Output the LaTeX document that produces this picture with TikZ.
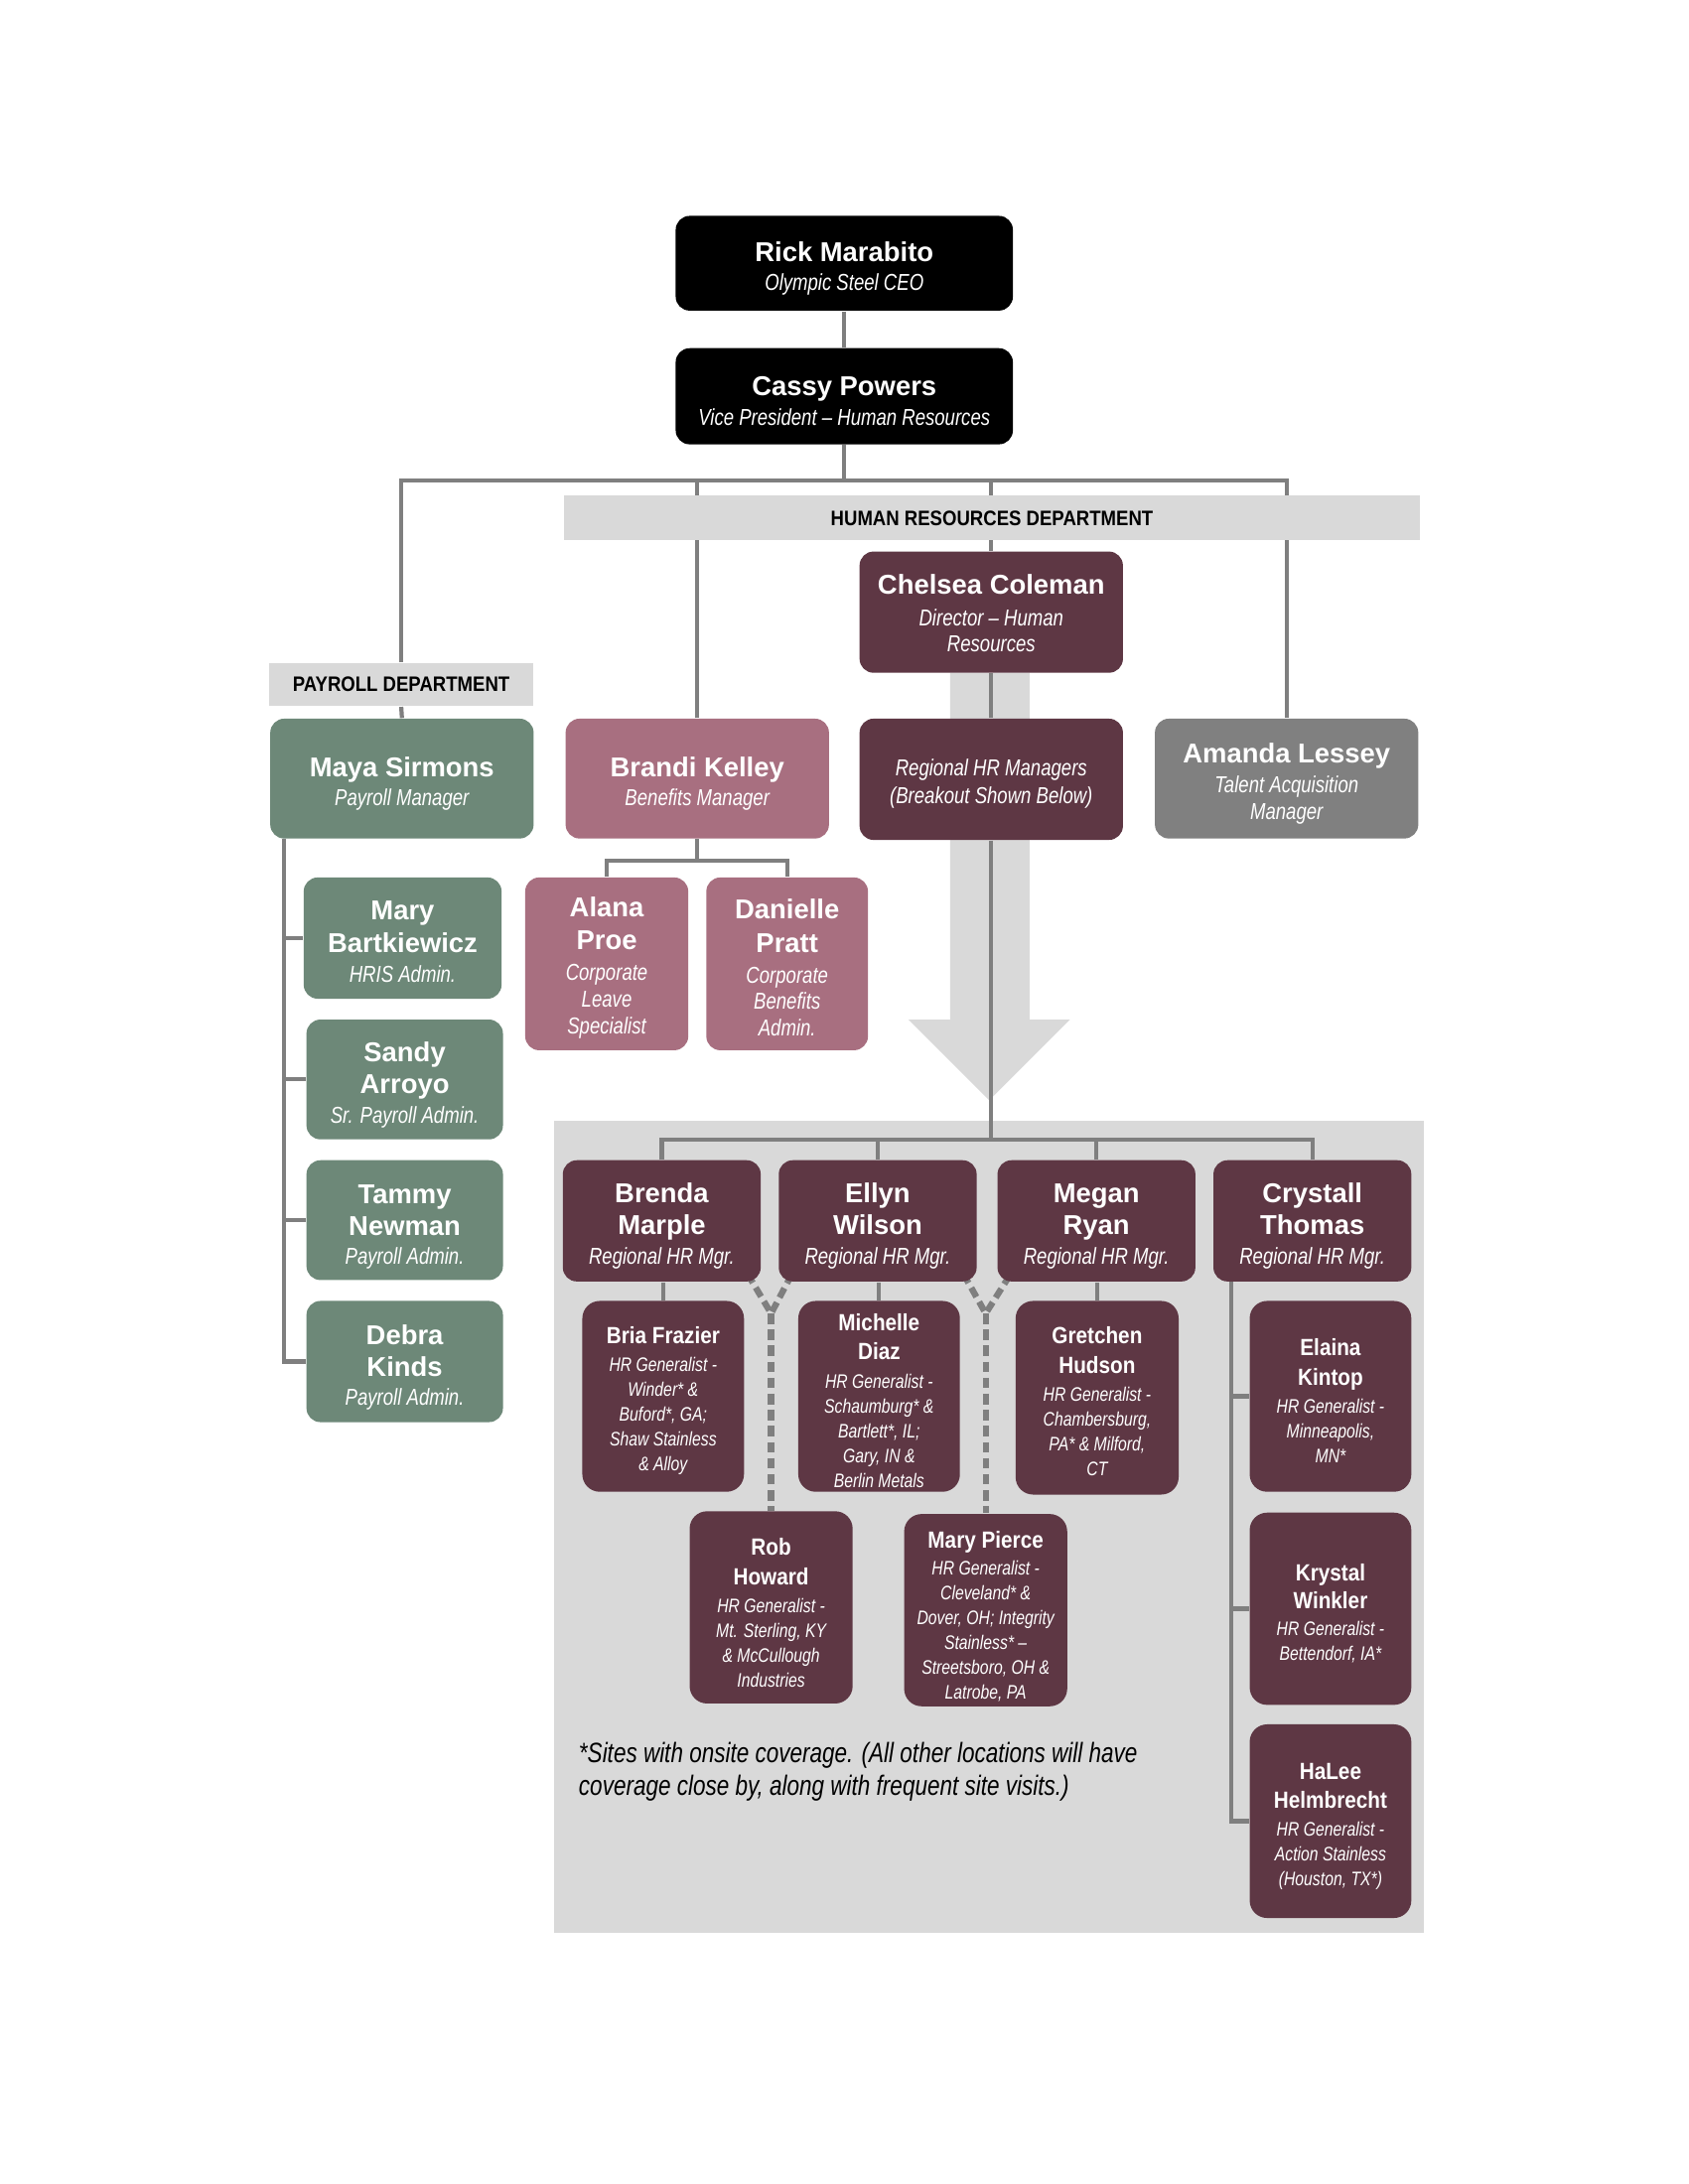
\documentclass[tikz,border=0pt]{standalone}
\usepackage{fontspec}
\setmainfont{Liberation Sans}
\newfontfamily\condfont[FakeStretch=0.8]{Liberation Sans}
\newfontfamily\gnfont[FakeStretch=0.88]{Liberation Sans}
\usetikzlibrary{calc}
\definecolor{cMaroon}{HTML}{5E3744}
\definecolor{cGreen}{HTML}{6D8878}
\definecolor{cPink}{HTML}{A86F80}
\definecolor{cGrayBox}{HTML}{808080}
\definecolor{cLight}{HTML}{D9D9D9}
\definecolor{cLine}{HTML}{7F7F7F}
\pgfdeclarelayer{back}
\pgfdeclarelayer{lines}
\pgfsetlayers{back,lines,main}
\newcommand\nm[1]{{\normalfont\bfseries\fontsize{7.8}{9}\selectfont #1}}
\newcommand\gn[1]{{\gnfont\bfseries\upshape\fontsize{6.7}{8}\selectfont #1}}
\newcommand\tp[1]{\rule{0pt}{#1}}
\tikzset{
  box/.style n args={3}{rounded corners=4pt, inner sep=0pt, align=center, text=white,
    fill=#1, minimum width=#2*0.39906pt, minimum height=#3*0.39906pt,
    font=\condfont\itshape\fontsize{6.6}{7.6}\selectfont},
  gbox/.style 2 args={rounded corners=5pt, inner sep=0pt, align=center, text=white,
    fill=cMaroon, minimum width=#1*0.39906pt, minimum height=#2*0.39906pt,
    font=\condfont\itshape\fontsize{5.6}{7.1}\selectfont},
  dept/.style 2 args={inner sep=0pt, fill=cLight, text=black,
    minimum width=#1*0.39906pt, minimum height=#2*0.39906pt,
    font=\gnfont\bfseries\fontsize{6}{7}\selectfont},
  conn/.style={draw=cLine, line width=1.2pt},
  dconn/.style={draw=cLine, line width=1.8pt, dash pattern=on 3pt off 1.6pt}
}
\begin{document}
\begin{tikzpicture}[x=0.014026cm, y=-0.014026cm]
\useasboundingbox (0,0) rectangle (1212,1568);

% ---------- top ----------
\node[box={black}{242}{68}] (rick) at (606,189) {\nm{\tp{8.6pt}Rick Marabito}\\[0.6pt]Olympic Steel CEO};
\node[box={black}{242}{69}] (cassy) at (606,284.5) {\nm{\tp{8.2pt}Cassy Powers}\\[1.1pt]Vice President – Human Resources};

\node[dept={614}{32}] (hrlabel) at (712,372) {HUMAN RESOURCES DEPARTMENT};
\node[dept={190}{31}] (plabel) at (288,491.5) {PAYROLL DEPARTMENT};

\node[box={cMaroon}{189}{87}] (chelsea) at (711.5,439.5) {\nm{\tp{6.4pt}Chelsea Coleman}\\[1.3pt]Director – Human\\Resources};
\node[box={cGreen}{189}{86}] (maya) at (288.5,559) {\nm{\tp{8.6pt}Maya Sirmons}\\[0.8pt]Payroll Manager};
\node[box={cPink}{189}{86}] (brandi) at (500.5,559) {\nm{\tp{8.6pt}Brandi Kelley}\\[0.8pt]Benefits Manager};
\node[box={cMaroon}{189}{87}] (regional) at (711.5,559.5) {\tp{7.1pt}Regional HR Managers\\[0.4pt](Breakout Shown Below)};
\node[box={cGrayBox}{189}{86}] (amanda) at (923.5,559) {\nm{\tp{8.4pt}Amanda Lessey}\\[1.1pt]Talent Acquisition\\Manager};

% ---------- payroll ----------
\node[box={cGreen}{142}{87}] (mary) at (289,673.5) {\nm{\tp{7.6pt}Mary}\\[1.6pt]\nm{Bartkiewicz}\\[1.0pt]HRIS Admin.};
\node[box={cGreen}{141}{86}] (sandy) at (290.5,775) {\nm{\tp{8.6pt}Sandy}\\[1.6pt]\nm{Arroyo}\\[0.8pt]Sr. Payroll Admin.};
\node[box={cGreen}{141}{86}] (tammy) at (290.5,876) {\nm{\tp{9.4pt}Tammy}\\[1.6pt]\nm{Newman}\\[0.6pt]Payroll Admin.};
\node[box={cGreen}{141}{87}] (debra) at (290.5,977.5) {\nm{\tp{9.0pt}Debra}\\[1.6pt]\nm{Kinds}\\[0.7pt]Payroll Admin.};

% ---------- benefits ----------
\node[box={cPink}{117}{124}] (alana) at (435.5,692) {\nm{\tp{7.8pt}Alana}\\[2pt]\nm{Proe}\\[1.2pt]Corporate\\Leave\\Specialist};
\node[box={cPink}{116}{124}] (danielle) at (565,692) {\nm{\tp{7.8pt}Danielle}\\[2pt]\nm{Pratt}\\[1.2pt]Corporate\\Benefits\\Admin.};

% ---------- regional breakout ----------
\node[box={cMaroon}{142}{87}] (brenda) at (475,876.5) {\nm{\tp{8.6pt}Brenda}\\[1.6pt]\nm{Marple}\\[0.8pt]Regional HR Mgr.};
\node[box={cMaroon}{142}{87}] (ellyn) at (630,876.5) {\nm{\tp{8.6pt}Ellyn}\\[1.6pt]\nm{Wilson}\\[0.8pt]Regional HR Mgr.};
\node[box={cMaroon}{142}{87}] (megan) at (787,876.5) {\nm{\tp{8.6pt}Megan}\\[1.6pt]\nm{Ryan}\\[0.8pt]Regional HR Mgr.};
\node[box={cMaroon}{142}{87}] (crystall) at (942,876.5) {\nm{\tp{8.6pt}Crystall}\\[1.6pt]\nm{Thomas}\\[0.8pt]Regional HR Mgr.};

\node[gbox={116}{137}] (bria) at (476,1002.5) {\gn{\tp{7.2pt}Bria Frazier}\\[1.0pt]HR Generalist -\\Winder* \&\\Buford*, GA;\\Shaw Stainless\\\& Alloy};
\node[gbox={116}{137}] (michelle) at (631,1002.5) {\gn{\tp{7.2pt}Michelle}\\[1.4pt]\gn{Diaz}\\[1.0pt]HR Generalist -\\Schaumburg* \&\\Bartlett*, IL;\\Gary, IN \&\\Berlin Metals};
\node[gbox={117}{139}] (gretchen) at (787.5,1003.5) {\gn{\tp{6.8pt}Gretchen}\\[1.4pt]\gn{Hudson}\\[1.0pt]HR Generalist -\\Chambersburg,\\PA* \& Milford,\\CT};
\node[gbox={116}{137}] (elaina) at (955,1002.5) {\gn{\tp{7.4pt}Elaina}\\[1.4pt]\gn{Kintop}\\[1.0pt]HR Generalist -\\Minneapolis,\\MN*};
\node[gbox={116}{138}] (krystal) at (955,1155) {\gn{\tp{7.6pt}Krystal}\\[0.8pt]\gn{Winkler}\\[0.8pt]HR Generalist -\\Bettendorf, IA*};
\node[gbox={116}{139}] (halee) at (955,1307.5) {\gn{\tp{7.6pt}HaLee}\\[1.4pt]\gn{Helmbrecht}\\[0.8pt]HR Generalist -\\Action Stainless\\(Houston, TX*)};
\node[gbox={117}{138}] (rob) at (553.5,1154) {\gn{\tp{7.8pt}Rob}\\[1.6pt]\gn{Howard}\\[0.8pt]HR Generalist -\\Mt. Sterling, KY\\\& McCullough\\Industries};
\node[gbox={117}{138}] (mpierce) at (707.5,1156) {\gn{\tp{8.4pt}Mary Pierce}\\[0.6pt]HR Generalist -\\Cleveland* \&\\Dover, OH; Integrity\\Stainless* –\\Streetsboro, OH \&\\Latrobe, PA};

\node[anchor=west, align=left, inner sep=0pt, text=black,
  font=\condfont\itshape\fontsize{8}{9.6}\selectfont] (note) at (415,1272)
  {*Sites with onsite coverage. (All other locations will have\\coverage close by, along with frequent site visits.)};

% ---------- junction points ----------
\coordinate (hb) at (606,345);
\coordinate (pv) at (204,602);
\coordinate (bk) at (500.5,618);
\coordinate (bb) at (711.5,818);
\coordinate (cv) at (884,920);
\coordinate (y1) at (553.5,943);
\coordinate (y2) at (707.5,943);

% ---------- background shapes ----------
\begin{pgfonlayer}{back}
  \fill[white] (0,0) rectangle (1212,1568);
  \fill[cLight] (398,805) rectangle (1022,1388);
  \fill[cLight] (682,483) -- (682,732) -- (652,732) -- (710,790) -- (768,732) -- (739,732) -- (739,483) -- cycle;
\end{pgfonlayer}

% ---------- connectors ----------
\begin{pgfonlayer}{lines}
  \draw[conn] (rick.south) -- (cassy.north);
  \draw[conn] (cassy.south) -- (hb);
  \draw[conn] (plabel.north) |- (hb) -| (amanda.north);
  \draw[conn] (brandi.north) -- (brandi.north |- hb);
  \draw[conn] (chelsea.north) -- (chelsea.north |- hb);
  \draw[conn] (plabel.south) -- (maya.north);
  \draw[conn] (chelsea.south) -- (regional.north);
  \draw[conn] (regional.south) -- (bb);
  \draw[conn] (brenda.north) |- (bb) -| (crystall.north);
  \draw[conn] (ellyn.north) -- (ellyn.north |- bb);
  \draw[conn] (megan.north) -- (megan.north |- bb);
  \draw[conn] (bria.north) -- (bria.north |- brenda.south);
  \draw[conn] (michelle.north) -- (michelle.north |- ellyn.south);
  \draw[conn] (gretchen.north) -- (gretchen.north |- megan.south);
  \draw[conn] (cv) |- (halee.west);
  \draw[conn] (cv |- elaina.west) -- (elaina.west);
  \draw[conn] (cv |- krystal.west) -- (krystal.west);
  \draw[conn] (pv) |- (debra.west);
  \draw[conn] (pv |- mary.west) -- (mary.west);
  \draw[conn] (pv |- sandy.west) -- (sandy.west);
  \draw[conn] (pv |- tammy.west) -- (tammy.west);
  \draw[conn] (brandi.south) -- (bk);
  \draw[conn] (alana.north) |- (bk) -| (danielle.north);
  \draw[dconn] ($(brenda.south east)+(-10,-6)$) -- (y1) -- ($(ellyn.south west)+(10,-6)$);
  \draw[dconn] (y1) -- (rob.north);
  \draw[dconn] ($(ellyn.south east)+(-10,-6)$) -- (y2) -- ($(megan.south west)+(10,-6)$);
  \draw[dconn] (y2) -- (mpierce.north);
\end{pgfonlayer}
\end{tikzpicture}
\end{document}
